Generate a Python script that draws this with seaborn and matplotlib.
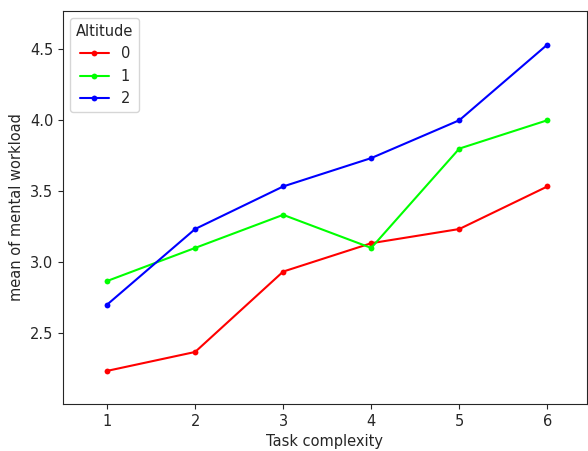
import matplotlib
matplotlib.use("Agg")
import matplotlib.pyplot as plt
import seaborn as sns
import pandas as pd

complexity = [1, 2, 3, 4, 5, 6]
altitude_0 = [2.2333, 2.3667, 2.9333, 3.1333, 3.2333, 3.5333]
altitude_1 = [2.8667, 3.1000, 3.3333, 3.1000, 3.8000, 4.0000]
altitude_2 = [2.7000, 3.2333, 3.5333, 3.7333, 4.0000, 4.5333]
altitudes = [0, 1, 2]
colors = ["#ff0000", "#00ff00", "#0000ff"]

rows = []
for alt, vals in zip(altitudes, [altitude_0, altitude_1, altitude_2]):
    for c, v in zip(complexity, vals):
        rows.append({"Task complexity": c, "mean of mental workload": v, "Altitude": alt})
df = pd.DataFrame(rows)

sns.set_style("ticks")
plt.rcParams["font.family"] = ["DejaVu Sans"]

fig = plt.figure(figsize=(5.88, 4.51), dpi=100)
ax = fig.add_axes([63 / 588, (451 - 404) / 451, (587 - 63) / 588, (404 - 11) / 451])

sns.lineplot(data=df, x="Task complexity", y="mean of mental workload",
             hue="Altitude", palette=dict(zip(altitudes, colors)),
             marker="o", markersize=4.2, markeredgewidth=0, linewidth=1.5, ax=ax)

ax.set_xlim(0.5, 6.45)
ax.set_ylim(2.0, 4.77)
ax.set_xticks(complexity)
ax.set_yticks([2.5, 3.0, 3.5, 4.0, 4.5])
ax.tick_params(labelsize=10.5)
ax.set_xlabel("Task complexity", fontsize=10.5)
ax.set_ylabel("mean of mental workload", fontsize=10.5)
leg = ax.legend(title="Altitude", loc="upper left", fontsize=10.5, title_fontsize=10.5)

fig.savefig("out.png", dpi=100)
